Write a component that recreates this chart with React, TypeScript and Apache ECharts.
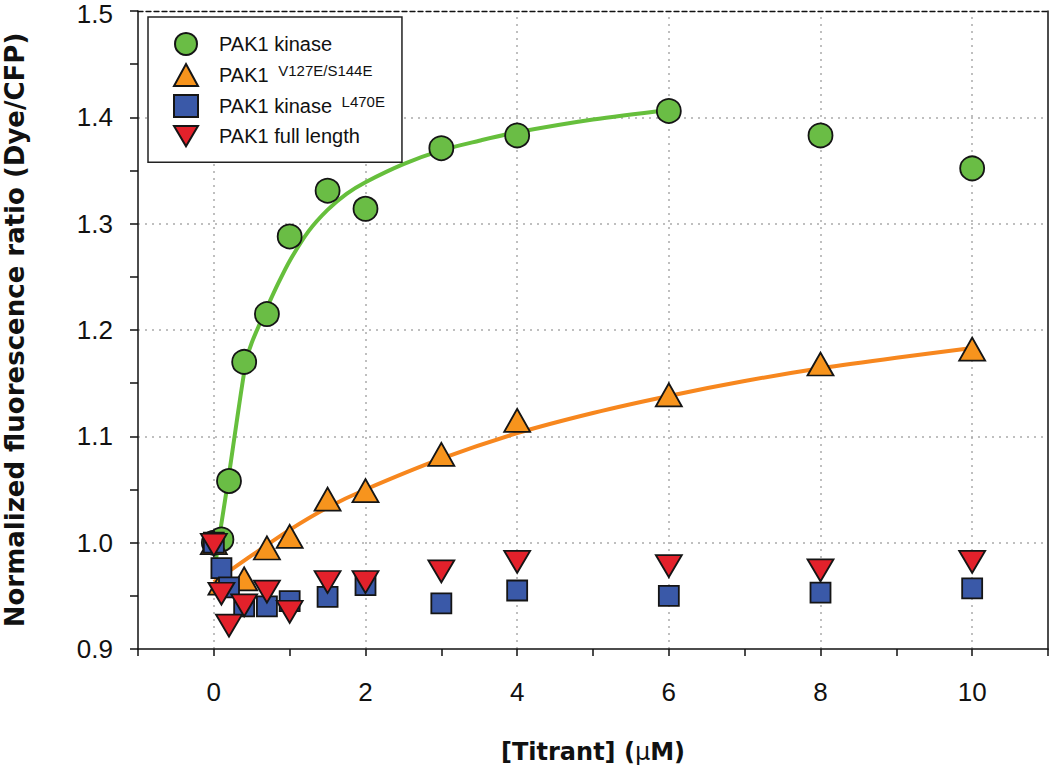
import React, { useEffect, useRef } from "react";
import * as echarts from "echarts";

// ---------- data ----------
const concentrations = [0, 0.1, 0.2, 0.4, 0.7, 1, 1.5, 2, 3, 4, 6, 8, 10];
const kinaseRatio = [1.0, 1.003, 1.058, 1.17, 1.215, 1.288, 1.331, 1.314, 1.371, 1.383, 1.406, 1.383, 1.352];
const mutantRatio = [1.0, 0.962, null, 0.966, 0.995, 1.006, 1.041, 1.049, 1.083, 1.115, 1.139, 1.168, 1.182];
const deadRatio = [1.0, 0.976, 0.958, 0.94, 0.94, 0.945, 0.949, 0.96, 0.943, 0.955, 0.95, 0.953, 0.957];
const fullLengthRatio = [0.998, 0.952, 0.922, 0.941, 0.954, 0.935, 0.963, 0.963, 0.973, 0.982, 0.978, 0.974, 0.982];

// fitted curves
const kinaseFitX = [0.03, 0.1, 0.2, 0.3, 0.4, 0.45, 0.5, 0.6, 0.7, 0.85, 1.0, 1.25, 1.5, 1.75, 2, 2.5, 3, 3.5, 4, 5, 6];
const kinaseFitY = [0.985, 1.018, 1.064, 1.113, 1.16, 1.177, 1.188, 1.205, 1.221, 1.244, 1.265, 1.293, 1.313, 1.328, 1.339, 1.356, 1.369, 1.378, 1.386, 1.398, 1.407];
const mutantFitX = [0, 0.5, 1, 1.5, 2, 3, 4, 5, 6, 7, 8, 9, 10];
const mutantFitY = [0.963, 0.988, 1.012, 1.033, 1.05, 1.079, 1.103, 1.122, 1.138, 1.152, 1.164, 1.174, 1.183];

const xGridTicks = [0, 2, 4, 6, 8, 10];
const yGridTicks = [1.0, 1.1, 1.2, 1.3, 1.4];

const seriesNames = ["PAK1 kinase", "PAK1 V127E/S144E", "PAK1 kinase L470E", "PAK1 full length"];
const legendLabels: Record<string, string> = {
  "PAK1 kinase": "{b|PAK1 kinase}",
  "PAK1 V127E/S144E": "{b|PAK1 }{s|V127E/S144E}",
  "PAK1 kinase L470E": "{b|PAK1 kinase }{s|L470E}",
  "PAK1 full length": "{b|PAK1 full length}",
};

const FONT = '"Liberation Sans", Arial, Helvetica, sans-serif';
const TITLE_FONT = '"DejaVu Sans", "Liberation Sans", Arial, sans-serif';
const INK = "#111";

function pairs(xs: number[], ys: (number | null)[]) {
  const out: number[][] = [];
  xs.forEach((x, i) => {
    const y = ys[i];
    if (y !== null && y !== undefined) out.push([x, y]);
  });
  return out;
}

export default function App() {
  const ref = useRef<HTMLDivElement>(null);

  useEffect(() => {
    if (!ref.current) return;
    const chart = echarts.init(ref.current, undefined, { renderer: "svg" });
    const gridLine = { color: "#aaaaaa", width: 1.5, type: [2, 5] as any };
    const markerBorder = { borderColor: "#151515", borderWidth: 1.8, opacity: 1 };

    chart.setOption({
      animation: false,
      backgroundColor: "#fff",
      grid: { left: 138, right: 2, top: 11, bottom: 119, outerBoundsMode: "none", containLabel: false },
      legend: {
        data: [
          { name: seriesNames[0] },
          { name: seriesNames[1] },
          { name: seriesNames[2] },
          { name: seriesNames[3], icon: "path://M0,0L26,0L13,22Z" },
        ],
        orient: "vertical",
        left: 148,
        top: 17,
        padding: [15, 17, 15, 25],
        itemWidth: 24,
        itemHeight: 22,
        itemGap: 7,
        borderColor: "#222",
        borderWidth: 1.5,
        backgroundColor: "#fff",
        selectedMode: false,
        formatter: (name: string) => legendLabels[name] || name,
        textStyle: {
          fontFamily: FONT,
          fontSize: 20,
          color: INK,
          rich: {
            b: { fontFamily: FONT, fontSize: 20, color: INK, lineHeight: 24, padding: [0, 0, 0, 16] },
            s: { fontFamily: FONT, fontSize: 15, color: INK, lineHeight: 14, verticalAlign: "top", padding: [0, 0, 0, 4] },
          },
        },
      },
      xAxis: [
        {
          type: "value",
          min: -1,
          max: 11,
          interval: 1,
          name: "[Titrant] ({m|μ}M)",
          nameLocation: "middle",
          nameGap: 91,
          nameTextStyle: {
            fontFamily: TITLE_FONT,
            fontSize: 24,
            fontWeight: "bold",
            color: INK,
            rich: { m: { fontFamily: TITLE_FONT, fontSize: 24, fontWeight: "normal", color: INK } },
          },
          axisLine: { onZero: false, lineStyle: { color: INK, width: 1.5 } },
          axisTick: { length: 7, lineStyle: { color: INK, width: 1.5 } },
          axisLabel: {
            formatter: (v: number) => (Math.round(v) % 2 === 0 ? String(v) : ""),
            fontFamily: FONT,
            fontSize: 26,
            color: INK,
            margin: 30,
          },
          splitLine: { show: false },
        },
        {
          type: "value",
          position: "top",
          min: -1,
          max: 11,
          interval: 1,
          axisLine: { show: true, onZero: false, lineStyle: { color: INK, width: 1.3, type: [5, 3] as any } },
          axisTick: { show: false },
          axisLabel: { show: false },
          splitLine: { show: false },
        },
      ],
      yAxis: [
        {
          type: "value",
          min: 0.9,
          max: 1.5,
          interval: 0.1,
          name: "Normalized fluorescence ratio (Dye/CFP)",
          nameLocation: "middle",
          nameGap: 110,
          nameTextStyle: { fontFamily: TITLE_FONT, fontSize: 26, fontWeight: "bold", color: INK },
          axisLine: { show: true, onZero: false, lineStyle: { color: INK, width: 1.5 } },
          axisTick: { show: true, length: 8, lineStyle: { color: INK, width: 1.5 } },
          minorTick: { show: true, splitNumber: 2, length: 8, lineStyle: { color: INK, width: 1.5 } },
          axisLabel: {
            formatter: (v: number) => (v >= 1.49 ? "{top|" + v.toFixed(1) + "}" : v.toFixed(1)),
            fontFamily: FONT,
            fontSize: 26,
            color: INK,
            margin: 25,
            rich: { top: { fontFamily: FONT, fontSize: 26, color: INK, padding: [5, 0, 0, 0] } },
          },
          splitLine: { show: false },
        },
        {
          type: "value",
          position: "right",
          min: 0.9,
          max: 1.5,
          interval: 0.1,
          axisLine: { show: true, onZero: false, lineStyle: { color: INK, width: 1.5 } },
          axisTick: { show: false },
          axisLabel: { show: false },
          splitLine: { show: false },
        },
      ],
      series: [
        {
          name: "grid",
          type: "line",
          data: [],
          z: 0,
          silent: true,
          markLine: {
            silent: true,
            z: 0,
            symbol: ["none", "none"],
            label: { show: false },
            lineStyle: gridLine,
            data: [
              ...xGridTicks.map((v) => ({ xAxis: v })),
              ...yGridTicks.map((v) => ({ yAxis: v })),
            ],
          },
        },
        {
          name: "kinase fit",
          type: "line",
          data: pairs(kinaseFitX, kinaseFitY),
          showSymbol: false,
          smooth: 0.3,
          silent: true,
          z: 1,
          lineStyle: { color: "#66bf3c", width: 4 },
        },
        {
          name: "mutant fit",
          type: "line",
          data: pairs(mutantFitX, mutantFitY),
          showSymbol: false,
          smooth: 0.3,
          silent: true,
          z: 1,
          lineStyle: { color: "#f7871e", width: 4 },
        },
        {
          name: seriesNames[0],
          type: "scatter",
          data: pairs(concentrations, kinaseRatio),
          symbol: "circle",
          symbolSize: 24,
          z: 3,
          itemStyle: { color: "#6abd45", ...markerBorder },
        },
        {
          name: seriesNames[1],
          type: "scatter",
          data: pairs(concentrations, mutantRatio),
          symbol: "triangle",
          symbolSize: [26, 23],
          z: 3,
          itemStyle: { color: "#f7941d", ...markerBorder },
        },
        {
          name: seriesNames[2],
          type: "scatter",
          data: pairs(concentrations, deadRatio),
          symbol: "rect",
          symbolSize: 20,
          z: 3,
          itemStyle: { color: "#3a59a8", ...markerBorder },
        },
        {
          name: seriesNames[3],
          type: "scatter",
          data: pairs(concentrations, fullLengthRatio),
          symbol: "triangle",
          symbolRotate: 180,
          symbolSize: [26, 22],
          z: 3,
          itemStyle: { color: "#e3212b", ...markerBorder },
        },
      ],
    });
    return () => chart.dispose();
  }, []);

  return (
    <div
      ref={ref}
      style={{ position: "fixed", left: 0, top: 0, width: 1050, height: 768, background: "#fff" }}
    />
  );
}
